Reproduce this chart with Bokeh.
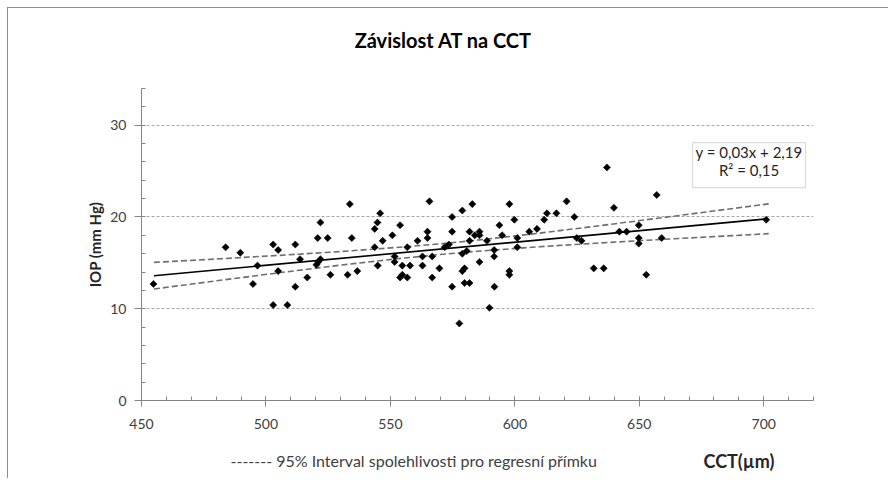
import math
from bokeh.plotting import figure
from bokeh.layouts import column
from bokeh.models import FixedTicker, Label, Range1d, BoxAnnotation, ColumnDataSource
from bokeh.embed import file_html
from bokeh.resources import INLINE

# ---------------- data ----------------
cct = [454.8, 483.8, 489.7, 494.8, 496.6, 502.9, 502.9, 504.9, 504.9, 508.6,
       511.8, 511.8, 513.7, 516.6, 520.3, 521.0, 521.9, 520.8, 521.9, 524.8,
       525.9, 532.8, 533.7, 534.5, 536.7, 543.7, 544.8, 545.9, 546.9, 543.7,
       544.9, 550.8, 551.7, 551.7, 553.9, 553.9, 554.8, 554.8, 556.8, 556.8,
       557.9, 560.9, 562.9, 562.9, 564.9, 564.9, 565.7, 566.8, 566.8, 569.7,
       571.8, 573.5, 574.8, 574.8, 574.8, 577.7, 578.9, 578.9, 578.9, 579.8,
       580.7, 579.8, 581.8, 581.8, 581.8, 582.9, 583.9, 585.8, 585.8, 585.8,
       588.8, 589.8, 591.7, 591.7, 591.8, 593.8, 594.9, 597.8, 597.8, 597.8,
       599.8, 601.0, 601.0, 605.8, 608.9, 611.8, 612.9, 616.7, 620.8, 623.9,
       624.9, 626.8, 631.7, 635.7, 637.0, 639.8, 642.0, 644.9, 649.8, 649.8,
       649.8, 652.8, 657.0, 659.0, 701.0]
iop = [12.7, 16.7, 16.1, 12.7, 14.7, 17.0, 10.4, 16.4, 14.1, 10.4,
       17.0, 12.4, 15.4, 13.4, 14.8, 15.1, 15.4, 17.7, 19.4, 17.7,
       13.7, 13.7, 21.4, 17.7, 14.1, 18.7, 19.4, 20.4, 17.4, 16.7,
       14.7, 18.0, 15.7, 15.1, 19.1, 13.4, 13.7, 14.7, 16.7, 13.4,
       14.7, 17.4, 15.7, 14.7, 18.4, 17.7, 21.7, 15.7, 13.4, 14.4,
       16.7, 17.0, 20.0, 18.4, 12.4, 8.4, 20.7, 16.0, 14.1, 14.4,
       16.3, 12.8, 12.8, 18.4, 17.4, 21.4, 18.0, 18.4, 18.0, 15.1,
       17.4, 10.1, 16.4, 15.7, 12.4, 19.1, 18.0, 21.4, 14.1, 13.7,
       19.7, 17.7, 16.7, 18.4, 18.7, 19.7, 20.4, 20.4, 21.7, 20.0,
       17.7, 17.4, 14.4, 14.4, 25.4, 21.0, 18.4, 18.4, 19.1, 17.7,
       17.1, 13.7, 22.4, 17.7, 19.7]

fit_x = [455, 701]
fit_y = [13.6, 19.79]

ci_x = [455, 480, 505, 530, 555, 570, 585, 610, 635, 660, 685, 702]
ci_upper = [15.05, 15.42, 15.81, 16.23, 16.73, 17.07, 17.48, 18.24, 19.08, 19.95, 20.83, 21.43]
ci_lower = [12.15, 13.04, 13.91, 14.75, 15.51, 15.91, 16.26, 16.76, 17.18, 17.57, 17.93, 18.18]

x_ticks = [450, 500, 550, 600, 650, 700]
x_minor = list(range(450, 721, 10))
y_ticks = [0, 10, 20, 30]
y_minor = list(range(0, 35, 2))

title_text = "Závislost AT na CCT"
y_label = "IOP (mm Hg)"
x_label = "CCT(µm)"
legend_text = "------- 95% Interval spolehlivosti pro regresní přímku"
eq_line1 = "y = 0,03x + 2,19"
eq_line2 = "R² = 0,15"

FONT = "Lato"
W = 880
TOP_H, MAIN_H, BOT_H = 80, 352, 38
FRAME_L, FRAME_R = 141, 813   # page pixels of the (column-aligned) plot frames


def text_panel(h):
    f = figure(width=W, height=h, x_range=Range1d(FRAME_L, FRAME_R), y_range=Range1d(0, h),
               x_axis_type=None, y_axis_type=None, output_backend="svg",
               toolbar_location=None, min_border=0)
    f.outline_line_color = None
    f.grid.visible = False
    f.background_fill_color = "white"
    f.border_fill_color = "white"
    return f


# ---------------- title panel ----------------
top = text_panel(TOP_H)
top.add_layout(Label(x=443, y=49, text=title_text, text_align="center", text_baseline="middle",
                     text_font=FONT, text_font_size="20px", text_font_style="bold",
                     text_color="black"))

# ---------------- main plot ----------------
p = figure(width=W, height=MAIN_H, x_range=Range1d(450, 720), y_range=Range1d(0, 34),
           output_backend="svg", toolbar_location=None,
           min_border_left=133, min_border_right=75, min_border_top=0, min_border_bottom=40)
p.outline_line_color = None
p.background_fill_color = "white"
p.border_fill_color = "white"

for ax in (p.xaxis[0], p.yaxis[0]):
    ax.axis_line_color = "#868686"
    ax.major_tick_line_color = "#868686"
    ax.minor_tick_line_color = "#868686"
    ax.major_label_text_font = FONT
    ax.major_label_text_font_size = "14px"
    ax.major_label_text_color = "#404040"

p.xaxis.ticker = FixedTicker(ticks=x_ticks, minor_ticks=x_minor)
p.xaxis.major_tick_in = 4
p.xaxis.major_tick_out = 6
p.xaxis.minor_tick_in = 4
p.xaxis.minor_tick_out = 0
p.xaxis.major_label_standoff = 12

p.yaxis.ticker = FixedTicker(ticks=y_ticks, minor_ticks=y_minor)
p.yaxis.major_tick_in = 0
p.yaxis.major_tick_out = 7
p.yaxis.minor_tick_in = 4
p.yaxis.minor_tick_out = 0
p.yaxis.major_label_standoff = 8
p.yaxis.axis_label = y_label
p.yaxis.axis_label_text_font = FONT
p.yaxis.axis_label_text_font_size = "15px"
p.yaxis.axis_label_text_font_style = "bold"
p.yaxis.axis_label_text_color = "#262626"
p.yaxis.axis_label_standoff = 3

p.xgrid.visible = False
p.ygrid.grid_line_color = "#a6a6a6"
p.ygrid.grid_line_dash = "3 2"
p.ygrid.grid_line_width = 1

p.line(ci_x, ci_upper, line_color="#6e6e6e", line_width=1.6, line_dash="6 3")
p.line(ci_x, ci_lower, line_color="#6e6e6e", line_width=1.6, line_dash="6 3")
p.line(fit_x, fit_y, line_color="black", line_width=1.6)
src = ColumnDataSource(dict(x=cct, y=iop))
p.scatter("x", "y", source=src, marker="square", angle=math.pi / 4, size=5,
          fill_color="black", line_color="black", line_width=0.6)

box = BoxAnnotation(left=671.4, right=716.8, bottom=23.2, top=28.1,
                    fill_color="white", fill_alpha=1.0, line_color="#8c8c8c", line_width=1.2)
p.add_layout(box)
p.add_layout(Label(x=694.1, y=27.07, text=eq_line1, text_align="center", text_baseline="middle",
                   text_font=FONT, text_font_size="15px", text_color="#262626"))
p.add_layout(Label(x=694.1, y=25.16, text=eq_line2, text_align="center", text_baseline="middle",
                   text_font=FONT, text_font_size="15px", text_color="#262626"))

# ---------------- bottom text panel ----------------
bot = text_panel(BOT_H)
bot.add_layout(Label(x=230, y=18, text=legend_text, text_align="left", text_baseline="middle",
                     text_font=FONT, text_font_size="16px", text_color="#404040"))
bot.add_layout(Label(x=703, y=18, text=x_label, text_align="left", text_baseline="middle",
                     text_font=FONT, text_font_size="18px", text_font_style="bold",
                     text_color="#262626"))

layout = column(top, p, bot, spacing=0)
layout.styles = {"border-left": "1px solid #8c8c8c", "border-top": "1px solid #8c8c8c",
                 "margin-left": "7px", "margin-top": "7px"}

open("out.html", "w").write(file_html(layout, INLINE))
